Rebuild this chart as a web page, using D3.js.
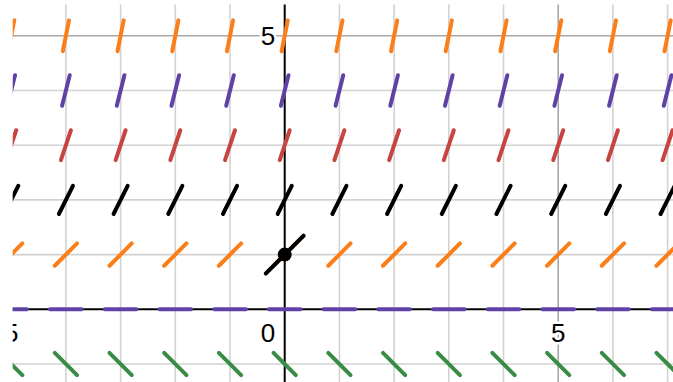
<!DOCTYPE html>
<html>
<head>
<meta charset="utf-8">
<script src="https://cdn.jsdelivr.net/npm/d3@7"></script>
<style>
  html, body { margin: 0; padding: 0; background: #fff; }
  svg { display: block; }
</style>
</head>
<body>
<script>
// ---- data ----
const gridXs = [-5, -4, -3, -2, -1, 0, 1, 2, 3, 4, 5, 6, 7];
const rowYs = [-1, 0, 1, 2, 3, 4, 5];
const rowSlopes = [-1, 0, 1, 2, 3, 4, 5];
const rowColors = ["#388c46", "#6042a6", "#fa7e19", "#000000", "#c74440", "#6042a6", "#fa7e19"];
const xTickLabels = [-5, 0, 5];
const yTickLabels = [5];
const tangentPoint = [0, 1];
const tangentSlope = 1;

// ---- layout ----
const W = 673, H = 382;
const unit = 54.7, x0px = 284.7, y0px = 309.3;
const x = d3.scaleLinear().domain([-x0px / unit, (W - x0px) / unit]).range([0, W]);
const y = d3.scaleLinear().domain([-(H - y0px) / unit, y0px / unit]).range([H, 0]);

const svg = d3.select("body").append("svg").attr("width", W).attr("height", H);
svg.append("defs").append("clipPath").attr("id", "clip")
  .append("rect").attr("x", 12.7).attr("y", 4.5).attr("width", W - 12.7).attr("height", H - 4.5);
const g = svg.append("g").attr("clip-path", "url(#clip)");

// grid
const vx = d3.range(Math.ceil(x.domain()[0]), Math.floor(x.domain()[1]) + 1);
const hy = d3.range(Math.ceil(y.domain()[0]), Math.floor(y.domain()[1]) + 1);
g.append("g").selectAll("line").data(vx.filter(d => d !== 0)).join("line")
  .attr("x1", d => x(d)).attr("x2", d => x(d)).attr("y1", 0).attr("y2", H)
  .attr("stroke", d => d % 5 === 0 ? "#a8a8a8" : "#d2d2d2").attr("stroke-width", 1.6);
g.append("g").selectAll("line").data(hy.filter(d => d !== 0)).join("line")
  .attr("y1", d => y(d)).attr("y2", d => y(d)).attr("x1", 0).attr("x2", W)
  .attr("stroke", d => d % 5 === 0 ? "#a8a8a8" : "#d2d2d2").attr("stroke-width", 1.6);

// axes
g.append("line").attr("x1", 0).attr("x2", W).attr("y1", y(0)).attr("y2", y(0))
  .attr("stroke", "#000").attr("stroke-width", 2);
g.append("line").attr("x1", x(0)).attr("x2", x(0)).attr("y1", 0).attr("y2", H)
  .attr("stroke", "#000").attr("stroke-width", 2);

// labels
const labelStyle = sel => sel
  .attr("font-family", "Arial, 'Liberation Sans', sans-serif")
  .attr("font-size", 26).attr("fill", "#000")
  .attr("stroke", "#fff").attr("stroke-width", 5).attr("paint-order", "stroke")
  .attr("stroke-linejoin", "round");
const digitW = 14.4;
g.append("g").selectAll("text").data(xTickLabels).join("text")
  .call(labelStyle)
  .attr("x", d => d === 0 ? x(0) - 9.5 : (d < 0 ? x(d) + digitW / 2 : x(d)))
  .attr("y", y(0) + 33)
  .attr("text-anchor", d => d === 0 ? "end" : (d < 0 ? "end" : "middle"))
  .text(d => d < 0 ? "\u2212" + Math.abs(d) : String(d));
g.append("g").selectAll("text").data(yTickLabels).join("text")
  .call(labelStyle)
  .attr("x", x(0) - 9.5).attr("y", d => y(d) + 9.5)
  .attr("text-anchor", "end")
  .text(d => String(d));

// slope field segments
const half = 0.288;
const segs = [];
rowYs.forEach((yy, i) => {
  const m = rowSlopes[i];
  const dx = half / Math.sqrt(1 + m * m);
  gridXs.forEach(xx => segs.push({ x1: xx - dx, y1: yy - m * dx, x2: xx + dx, y2: yy + m * dx, c: rowColors[i] }));
});
g.append("g").selectAll("line").data(segs).join("line")
  .attr("x1", d => x(d.x1)).attr("y1", d => y(d.y1))
  .attr("x2", d => x(d.x2)).attr("y2", d => y(d.y2))
  .attr("stroke", d => d.c).attr("stroke-width", 4).attr("stroke-linecap", "round");

// tangent line and point
const tdx = 0.345;
g.append("line")
  .attr("x1", x(tangentPoint[0] - tdx)).attr("y1", y(tangentPoint[1] - tangentSlope * tdx))
  .attr("x2", x(tangentPoint[0] + tdx)).attr("y2", y(tangentPoint[1] + tangentSlope * tdx))
  .attr("stroke", "#000").attr("stroke-width", 4).attr("stroke-linecap", "round");
g.append("circle").attr("cx", x(tangentPoint[0])).attr("cy", y(tangentPoint[1]))
  .attr("r", 7).attr("fill", "#000");
</script>
</body>
</html>
